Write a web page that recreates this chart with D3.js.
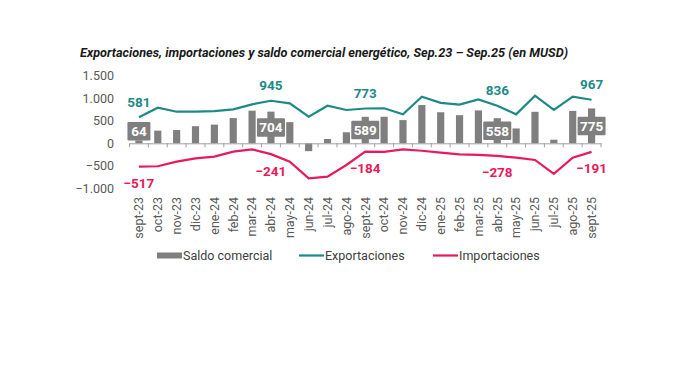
<!DOCTYPE html>
<html><head><meta charset="utf-8">
<script src="https://cdn.jsdelivr.net/npm/d3@7"></script>
<style>html,body{margin:0;padding:0;background:#fff;}svg{display:block;}</style>
</head><body>
<script>
const categories = ["sept-23","oct-23","nov-23","dic-23","ene-24","feb-24","mar-24","abr-24","may-24","jun-24","jul-24","ago-24","sept-24","oct-24","nov-24","dic-24","ene-25","feb-25","mar-25","abr-25","may-25","jun-25","jul-25","ago-25","sept-25"];
const exportaciones = [581,791,702,705,717,755,866,945,889,591,836,740,773,778,644,1036,900,860,975,836,644,1058,740,1036,967];
const importaciones = [-517,-510,-408,-334,-297,-186,-134,-241,-408,-778,-741,-482,-184,-190,-134,-165,-208,-244,-258,-278,-319,-370,-680,-319,-191];
const saldo = [64,281,294,380,415,560,725,704,470,-175,95,245,589,590,515,850,690,625,730,558,330,700,80,720,775];
const labelIdx = [0,7,12,19,24];
const yTicks = [-1000,-500,0,500,1000,1500];
const legendItems = ["Saldo comercial","Exportaciones","Importaciones"];
const title = "Exportaciones, importaciones y saldo comercial energético, Sep.23 – Sep.25 (en MUSD)";

const W=682,H=372;
const cTeal="#1d8a86", cPink="#e8195d", cBar="#7f7f7f";
const fmt = v => d3.format(",")(v).replace(/,/g,".");
const svg = d3.select("body").append("svg").attr("width",W).attr("height",H);
svg.append("rect").attr("width",W).attr("height",H).attr("fill","#fff");

const x = d3.scaleBand().domain(categories).range([129.5,601]).paddingInner(0.62).paddingOuter(0.31);
const xs = d3.scaleBand().domain(categories).range([129.5,601]);
const cx = c => xs(c)+xs.bandwidth()/2;
const y = d3.scaleLinear().domain([-1000,1500]).range([188.3,75.8]);

svg.append("text").attr("x",80).attr("y",57).attr("textLength",488).attr("lengthAdjust","spacingAndGlyphs")
  .attr("font-family","Roboto, 'Open Sans', sans-serif").attr("font-weight","bold").attr("font-style","italic")
  .attr("font-size",13).attr("fill","#1a1a1a").text(title);

// y axis labels
const yAxis = d3.axisLeft(y).tickValues(yTicks).tickSize(0).tickFormat(fmt);
svg.append("g").attr("transform","translate(117,0)").call(yAxis)
  .call(g=>g.select(".domain").remove())
  .call(g=>g.selectAll("text").attr("font-family","Roboto, sans-serif").attr("font-size",12.5).attr("fill","#595959"));

// bars
svg.append("g").selectAll("rect").data(categories).join("rect")
  .attr("x",c=>x(c)).attr("width",x.bandwidth())
  .attr("y",(c,i)=>y(Math.max(0,saldo[i]))).attr("height",(c,i)=>Math.abs(y(saldo[i])-y(0)))
  .attr("fill",cBar);

// zero axis with ticks
const ax = d3.axisBottom(xs).tickSize(0).tickFormat("");
const gx = svg.append("g").attr("transform",`translate(0,${y(0)})`).call(ax);
gx.select(".domain").attr("stroke","#a0a0a0").attr("stroke-width",1);
gx.selectAll(".tick").remove();
const bounds = categories.map(c=>xs(c)).concat([xs(categories[categories.length-1])+xs.bandwidth()]);
gx.selectAll("line.t").data(bounds).join("line").attr("class","t")
  .attr("x1",d=>d).attr("x2",d=>d).attr("y1",0).attr("y2",4).attr("stroke","#a0a0a0");

// x labels
svg.append("g").selectAll("text").data(categories).join("text")
  .attr("transform",c=>`translate(${cx(c)+4.3},197) rotate(-90)`)
  .attr("text-anchor","end").attr("font-family","Roboto, sans-serif").attr("font-size",12.5).attr("fill","#595959")
  .text(c=>c);

// lines
const line = arr => d3.line().x((d,i)=>cx(categories[i])).y(d=>y(d))(arr);
svg.append("path").attr("d",line(exportaciones)).attr("fill","none").attr("stroke",cTeal).attr("stroke-width",2.2);
svg.append("path").attr("d",line(importaciones)).attr("fill","none").attr("stroke",cPink).attr("stroke-width",2.2);

// line labels
const lf = "Roboto, sans-serif";
svg.append("g").selectAll("text").data(labelIdx).join("text")
  .attr("x",i=>cx(categories[i])).attr("y",i=>y(exportaciones[i])-15+4.6)
  .attr("text-anchor","middle").attr("font-family",lf).attr("font-weight","bold").attr("font-size",13.5).attr("fill",cTeal)
  .text(i=>fmt(exportaciones[i]));
svg.append("g").selectAll("text").data(labelIdx).join("text")
  .attr("x",i=>cx(categories[i])).attr("y",i=>y(importaciones[i])+17+4.6)
  .attr("text-anchor","middle").attr("font-family",lf).attr("font-weight","bold").attr("font-size",13.5).attr("fill",cPink)
  .text(i=>fmt(importaciones[i]));

// saldo labels with boxes
const bl = svg.append("g").selectAll("g").data(labelIdx).join("g")
  .attr("transform",i=>{
    const top=y(saldo[i]), h=y(0)-top, mid=(top+y(0))/2;
    const cy = h > 20 ? mid : top-9.2;
    return `translate(${cx(categories[i])},${cy})`;
  });
bl.append("rect").attr("x",i=>-(String(saldo[i]).length>2?14:11.5)).attr("width",i=>String(saldo[i]).length>2?28:23)
  .attr("y",-9.2).attr("height",18.5).attr("rx",1).attr("fill",cBar);
bl.append("text").attr("y",4.8).attr("text-anchor","middle").attr("font-family",lf).attr("font-weight","bold")
  .attr("font-size",13.5).attr("fill","#fff").text(i=>fmt(saldo[i]));

// legend
const lg = svg.append("g").attr("font-family","Roboto, sans-serif").attr("font-size",12.5).attr("fill","#404040");
lg.append("rect").attr("x",157).attr("y",252.5).attr("width",25).attr("height",6).attr("fill",cBar);
lg.append("text").attr("x",183).attr("y",259.5).text(legendItems[0]);
lg.append("line").attr("x1",299).attr("x2",324).attr("y1",255.5).attr("y2",255.5).attr("stroke",cTeal).attr("stroke-width",2.2);
lg.append("text").attr("x",325).attr("y",259.5).text(legendItems[1]);
lg.append("line").attr("x1",433).attr("x2",458).attr("y1",255.5).attr("y2",255.5).attr("stroke",cPink).attr("stroke-width",2.2);
lg.append("text").attr("x",459).attr("y",259.5).text(legendItems[2]);
</script>
</body></html>
